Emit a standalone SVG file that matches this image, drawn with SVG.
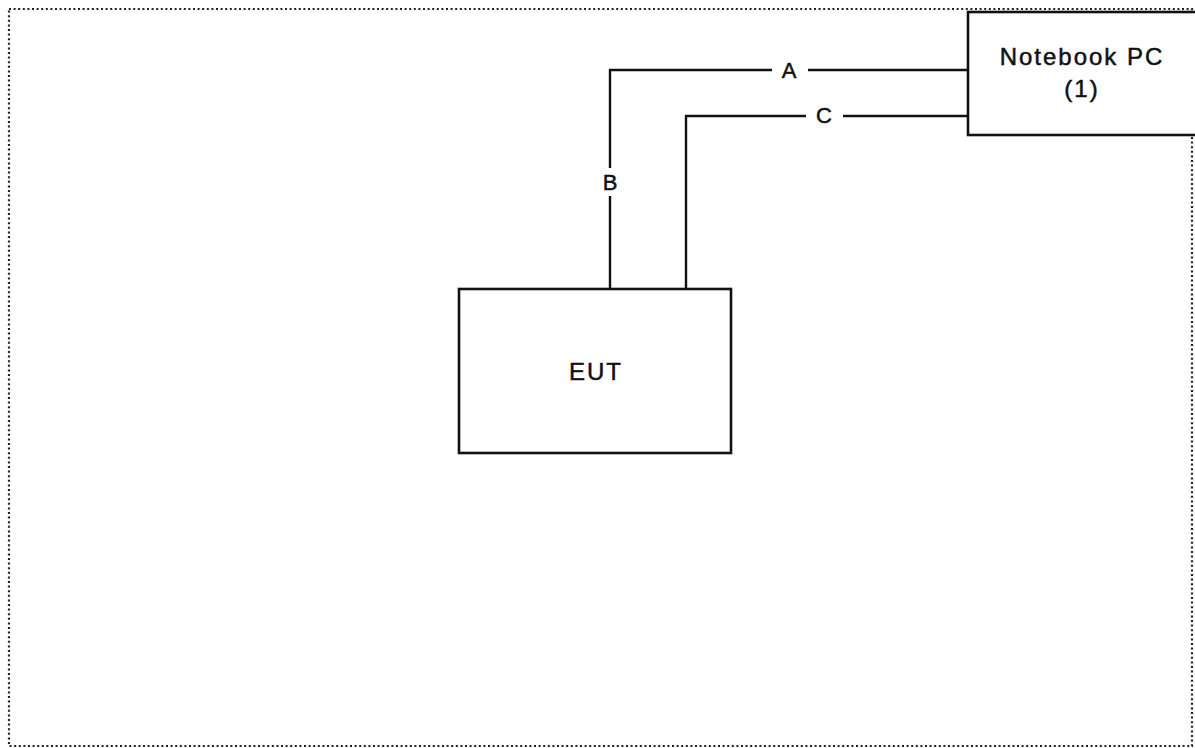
<svg xmlns="http://www.w3.org/2000/svg" width="1195" height="748" viewBox="0 0 1195 748">
<style>
.box{fill:#fff;stroke:#111;stroke-width:2.6}
.wire{fill:none;stroke:#111;stroke-width:2.4}
.lbl{font-family:"Liberation Sans",Arial,sans-serif;fill:#111;stroke:#111;stroke-width:0.5;text-anchor:middle}
.big{font-size:24px;letter-spacing:2px}
.small{font-size:22px}
.frame{fill:none;stroke:#222;stroke-width:2.2;stroke-dasharray:2 2.6}
</style>
<rect x="0" y="0" width="1195" height="748" fill="#fff"/>
<rect class="frame" x="9" y="9" width="1183" height="737"/>
<g id="connectors">
<polyline class="wire" points="772,70 610,70 610,168"/>
<line class="wire" x1="808" y1="70" x2="968" y2="70"/>
<line class="wire" x1="610" y1="196" x2="610" y2="289"/>
<polyline class="wire" points="806,116 686,116 686,289"/>
<line class="wire" x1="843" y1="116" x2="968" y2="116"/>
<text class="lbl small" x="789" y="78">A</text>
<text class="lbl small" x="610" y="190">B</text>
<text class="lbl small" x="824" y="123">C</text>
</g>
<g id="notebook">
<rect class="box" x="968" y="12" width="240" height="123"/>
<text class="lbl big" x="1082" y="65">Notebook PC</text>
<text class="lbl big" x="1082" y="97">(1)</text>
</g>
<g id="eut">
<rect class="box" x="459" y="289" width="272" height="164"/>
<text class="lbl big" x="596" y="380">EUT</text>
</g>
</svg>
